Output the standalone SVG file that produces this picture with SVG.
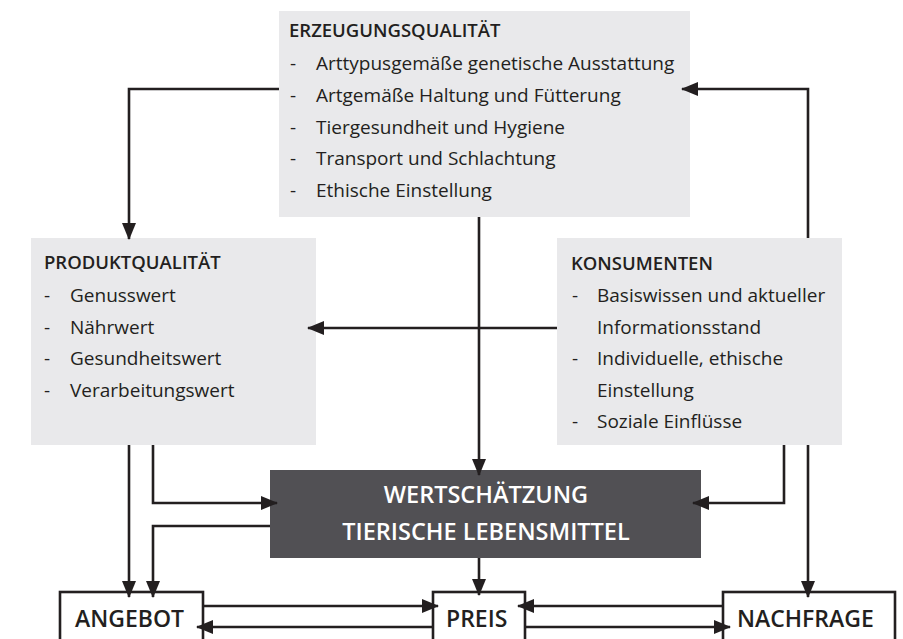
<svg xmlns="http://www.w3.org/2000/svg" width="903" height="639" viewBox="0 0 903 639">
<style>
.lb{fill:#e9e9eb}
.dk{fill:#515054}
.bx{fill:#ffffff;stroke:#231f20;stroke-width:2.6}
.t{font-family:"Open Sans","Liberation Sans",sans-serif;font-size:19px;fill:#231f20}
.h{font-family:"Open Sans","Liberation Sans",sans-serif;font-size:18.5px;font-weight:600;fill:#231f20}
.w{font-family:"Open Sans","Liberation Sans",sans-serif;font-size:23.5px;font-weight:600;fill:#ffffff;text-anchor:middle}
.b{font-family:"Open Sans","Liberation Sans",sans-serif;font-size:23px;font-weight:600;fill:#231f20}
.c{fill:none;stroke:#231f20;stroke-width:2.6;marker-end:url(#ah)}
</style>
<defs>
<marker id="ah" markerUnits="userSpaceOnUse" viewBox="0 0 17 14" markerWidth="17" markerHeight="14" refX="16" refY="7" orient="auto">
<path d="M0,0 L17,7 L0,14 Z" fill="#231f20"/>
</marker>
</defs>
<rect width="903" height="639" fill="#ffffff"/>

<g id="erzeugung">
<rect class="lb" x="279" y="11" width="411" height="206"/>
<text class="h" x="289" y="37">ERZEUGUNGSQUALITÄT</text>
<text class="t" x="290" y="70">-</text><text class="t" x="316" y="70">Arttypusgemäße genetische Ausstattung</text>
<text class="t" x="290" y="102">-</text><text class="t" x="316" y="102">Artgemäße Haltung und Fütterung</text>
<text class="t" x="290" y="134">-</text><text class="t" x="316" y="134">Tiergesundheit und Hygiene</text>
<text class="t" x="290" y="165">-</text><text class="t" x="316" y="165">Transport und Schlachtung</text>
<text class="t" x="290" y="197">-</text><text class="t" x="316" y="197">Ethische Einstellung</text>
</g>

<g id="produkt">
<rect class="lb" x="31" y="238" width="285" height="207"/>
<text class="h" x="44" y="269">PRODUKTQUALITÄT</text>
<text class="t" x="44" y="302">-</text><text class="t" x="70" y="302">Genusswert</text>
<text class="t" x="44" y="334">-</text><text class="t" x="70" y="334">Nährwert</text>
<text class="t" x="44" y="365">-</text><text class="t" x="70" y="365">Gesundheitswert</text>
<text class="t" x="44" y="397">-</text><text class="t" x="70" y="397">Verarbeitungswert</text>
</g>

<g id="konsumenten">
<rect class="lb" x="557" y="238" width="285" height="207"/>
<text class="h" x="571" y="270">KONSUMENTEN</text>
<text class="t" x="572" y="302">-</text><text class="t" x="597" y="302">Basiswissen und aktueller</text>
<text class="t" x="597" y="334">Informationsstand</text>
<text class="t" x="572" y="365">-</text><text class="t" x="597" y="365">Individuelle, ethische</text>
<text class="t" x="597" y="397">Einstellung</text>
<text class="t" x="572" y="428">-</text><text class="t" x="597" y="428">Soziale Einflüsse</text>
</g>

<g id="wertschaetzung">
<rect class="dk" x="270" y="470" width="431" height="88"/>
<text class="w" x="486" y="503">WERTSCHÄTZUNG</text>
<text class="w" x="486" y="540">TIERISCHE LEBENSMITTEL</text>
</g>

<g id="angebot">
<rect class="bx" x="60" y="592" width="143" height="60"/>
<text class="b" x="75" y="627">ANGEBOT</text>
</g>
<g id="preis">
<rect class="bx" x="433" y="592" width="92" height="60"/>
<text class="b" x="446" y="627">PREIS</text>
</g>
<g id="nachfrage">
<rect class="bx" x="723" y="592" width="172" height="60"/>
<text class="b" x="737" y="627">NACHFRAGE</text>
</g>

<g id="connectors">
<path class="c" d="M279,89 H129 V239"/>
<path class="c" d="M808,238 V89 H682"/>
<path class="c" d="M557,328 H308"/>
<path class="c" d="M479,217 V475"/>
<path class="c" d="M153,445 V503 H277"/>
<path class="c" d="M270,526 H153 V597"/>
<path class="c" d="M129,445 V597"/>
<path class="c" d="M479,558 V595"/>
<path class="c" d="M784,445 V503 H693"/>
<path class="c" d="M808,445 V597"/>
<path class="c" d="M203,606 H438"/>
<path class="c" d="M433,627 H197"/>
<path class="c" d="M723,606 H518"/>
<path class="c" d="M525,627 H730"/>
</g>
</svg>
